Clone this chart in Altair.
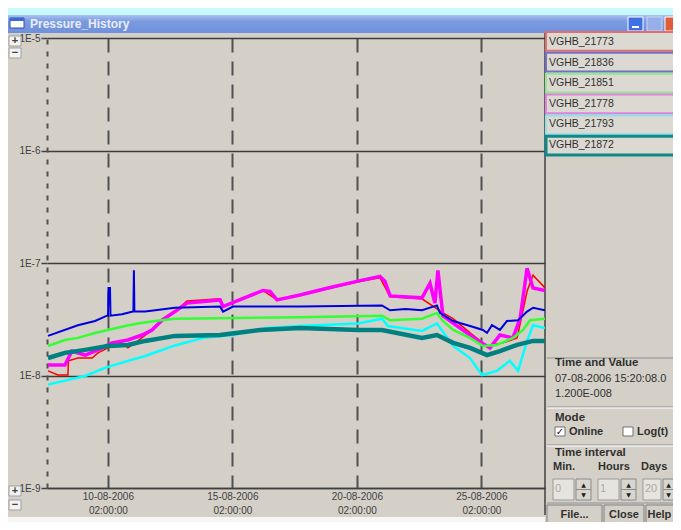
import altair as alt
import pandas as pd

# ---- data: days since 07-08-2006 15:20:08, pressure values ----
names = ["VGHB_21773", "VGHB_21836", "VGHB_21851", "VGHB_21778", "VGHB_21793", "VGHB_21872"]
line_colors = ["#ff0000", "#0000dd", "#33ff33", "#ff00ff", "#00ffff", "#008080"]
box_colors = ["#e07070", "#7070c8", "#90e890", "#e080e0", "#90e0e8", "#108888"]
line_widths = [1.5, 2, 2.5, 3.5, 2.5, 4.5]

red_day = [0.04, 0.44, 0.84, 0.86, 1.24, 1.81, 2.05, 2.45, 3.01, 3.25, 3.65, 4.22, 4.62, 5.14, 5.62, 6.95, 7.07, 7.63, 8.67, 9.24, 10.16, 12.49, 13.37, 13.78, 15.06, 15.90, 16.31, 16.99, 17.67, 18.31, 18.88, 19.28, 19.52, 20.0]
red_val = [1.10e-8, 1.01e-8, 1.01e-8, 1.35e-8, 1.43e-8, 1.43e-8, 1.59e-8, 1.76e-8, 1.95e-8, 1.76e-8, 2.03e-8, 2.54e-8, 3.1e-8, 3.7e-8, 4.6e-8, 4.8e-8, 4.1e-8, 4.6e-8, 5.7e-8, 4.7e-8, 5.2e-8, 6.8e-8, 7.4e-8, 5.0e-8, 4.8e-8, 3.6e-8, 3.2e-8, 2.39e-8, 1.83e-8, 1.95e-8, 2.16e-8, 5.6e-8, 7.8e-8, 6.0e-8]

blue_day = [0.04, 1.24, 1.93, 2.41, 2.45, 2.47, 2.53, 2.55, 3.01, 3.45, 3.47, 3.49, 3.51, 3.94, 5.14, 6.95, 7.07, 7.47, 10.16, 13.45, 13.78, 14.4, 15.06, 15.66, 15.78, 16.31, 16.99, 17.51, 17.67, 17.87, 18.19, 18.47, 18.92, 19.28, 19.52, 20.0]
blue_val = [2.25e-8, 2.8e-8, 3.05e-8, 3.4e-8, 3.4e-8, 6.0e-8, 6.0e-8, 3.4e-8, 3.5e-8, 3.7e-8, 3.7e-8, 8.6e-8, 3.7e-8, 3.7e-8, 4.0e-8, 4.1e-8, 3.7e-8, 4.1e-8, 4.1e-8, 4.2e-8, 3.8e-8, 3.9e-8, 3.8e-8, 4.2e-8, 3.6e-8, 3.05e-8, 2.75e-8, 2.54e-8, 2.39e-8, 2.8e-8, 2.54e-8, 3.05e-8, 3.1e-8, 3.7e-8, 4.0e-8, 3.8e-8]

green_day = [0.04, 0.72, 1.24, 1.93, 2.45, 3.13, 3.65, 4.34, 5.14, 10.16, 13.45, 13.78, 15.06, 15.66, 15.90, 16.31, 16.99, 17.51, 18.07, 18.71, 19.12, 19.40, 20.0]
green_val = [1.83e-8, 2.07e-8, 2.16e-8, 2.39e-8, 2.54e-8, 2.75e-8, 2.9e-8, 3.05e-8, 3.2e-8, 3.3e-8, 3.4e-8, 3.1e-8, 3.2e-8, 3.6e-8, 3.05e-8, 2.54e-8, 2.16e-8, 1.83e-8, 1.87e-8, 2.16e-8, 2.54e-8, 3.1e-8, 3.2e-8]

mag_day = [0.04, 0.72, 1.00, 1.53, 2.05, 2.61, 3.25, 3.82, 4.22, 4.62, 5.14, 5.62, 6.95, 7.07, 7.63, 8.67, 8.96, 9.24, 10.16, 11.29, 12.49, 13.37, 13.57, 13.78, 15.06, 15.38, 15.58, 15.70, 15.90, 16.59, 17.27, 17.79, 18.19, 18.71, 19.00, 19.28, 19.52, 20.0]
mag_val = [1.24e-8, 1.24e-8, 1.65e-8, 1.52e-8, 1.69e-8, 1.95e-8, 2.07e-8, 2.29e-8, 2.54e-8, 3.1e-8, 3.7e-8, 4.4e-8, 4.7e-8, 4.1e-8, 4.6e-8, 5.7e-8, 5.6e-8, 4.7e-8, 5.2e-8, 6.0e-8, 6.9e-8, 7.6e-8, 6.9e-8, 5.1e-8, 4.9e-8, 6.6e-8, 4.4e-8, 8.6e-8, 3.4e-8, 2.64e-8, 2.07e-8, 1.76e-8, 2.29e-8, 2.16e-8, 3.2e-8, 9.0e-8, 6.0e-8, 5.7e-8]

cyan_day = [0.04, 0.72, 1.53, 2.33, 3.25, 3.94, 5.14, 6.27, 7.47, 8.84, 10.16, 12.49, 13.45, 13.69, 15.06, 15.66, 16.31, 16.99, 17.47, 18.07, 18.59, 18.92, 19.28, 19.52, 20.0]
cyan_val = [8.3e-9, 9.0e-9, 9.9e-9, 1.17e-8, 1.35e-8, 1.49e-8, 1.85e-8, 2.16e-8, 2.29e-8, 2.64e-8, 2.75e-8, 2.9e-8, 3.2e-8, 2.75e-8, 2.49e-8, 2.9e-8, 1.83e-8, 1.43e-8, 1.01e-8, 1.10e-8, 1.35e-8, 1.10e-8, 2.03e-8, 2.8e-8, 2.64e-8]

teal_day = [0.04, 0.72, 1.53, 2.45, 3.25, 3.94, 5.14, 6.95, 8.55, 10.16, 12.49, 13.45, 15.06, 15.66, 16.31, 16.99, 17.67, 18.19, 18.88, 19.52, 20.0]
teal_val = [1.43e-8, 1.59e-8, 1.69e-8, 1.83e-8, 1.87e-8, 2.03e-8, 2.25e-8, 2.29e-8, 2.54e-8, 2.64e-8, 2.54e-8, 2.54e-8, 2.16e-8, 2.29e-8, 1.95e-8, 1.76e-8, 1.52e-8, 1.65e-8, 1.87e-8, 2.03e-8, 2.03e-8]

y_ticks = [1e-9, 1e-8, 1e-7, 1e-6, 1e-5]
start = pd.Timestamp("2006-08-07 15:20:08")
tick_dates = ["2006-08-10 02:00:00", "2006-08-15 02:00:00", "2006-08-20 02:00:00", "2006-08-25 02:00:00"]
tick_days = [(pd.Timestamp(t) - start).total_seconds() / 86400 for t in tick_dates]

series = {
    "VGHB_21773": (red_day, red_val),
    "VGHB_21836": (blue_day, blue_val),
    "VGHB_21851": (green_day, green_val),
    "VGHB_21778": (mag_day, mag_val),
    "VGHB_21793": (cyan_day, cyan_val),
    "VGHB_21872": (teal_day, teal_val),
}
draw_order = ["VGHB_21773", "VGHB_21778", "VGHB_21836", "VGHB_21851", "VGHB_21793", "VGHB_21872"]

FONT = "Liberation Sans"
BG = "#d4d0c8"
W, H = 498, 450

d0 = "time(datetime(2006,7,7,15,20,8)) + round(datum.value*86400000)"
x_enc = alt.X("day:Q", scale=alt.Scale(domain=[0, 20], nice=False, zero=False),
              axis=alt.Axis(values=tick_days, title=None, ticks=False, grid=True,
                            gridDash=[14, 9], gridColor="#505050", gridWidth=2,
                            domainColor="#404040", domainWidth=1.5, labelAngle=0,
                            labelExpr="[timeFormat(" + d0 + ", '%d-%m-%Y'), timeFormat(" + d0 + ", '%H:%M:%S')]",
                            labelFont=FONT, labelFontSize=10, labelColor="#404040",
                            labelPadding=3, labelLineHeight=14))
y_enc = alt.Y("value:Q", scale=alt.Scale(type="log", domain=[1e-9, 1e-5], nice=False),
              axis=alt.Axis(values=y_ticks, title=None, grid=True, gridColor="#3c3c3c",
                            gridWidth=1.5, domainDash=[5, 7], domainColor="#505050",
                            domainWidth=2, tickSize=6, tickColor="#404040", tickWidth=1.5,
                            labelExpr="'1E-' + round(-log(datum.value)/LN10)",
                            labelFont=FONT, labelFontSize=10, labelColor="#404040",
                            labelPadding=1, labelFlush=False))

line_layers = []
for nm in draw_order:
    i = names.index(nm)
    dd, vv = series[nm]
    df = pd.DataFrame({"day": dd, "value": vv, "series": nm})
    line_layers.append(
        alt.Chart(df).mark_line(color=line_colors[i], strokeWidth=line_widths[i], clip=True,
                                strokeJoin="miter")
        .encode(x=x_enc, y=y_enc)
    )
lines = alt.layer(*line_layers)

# ---- legend boxes ----
leg_df = pd.DataFrame({"name": names, "box": box_colors})
leg_scale = alt.Scale(domain=names, range=[-6, 117], paddingInner=0.1, paddingOuter=0)
leg_rect = alt.Chart(leg_df).mark_rect(fill="#dcd9d2").encode(
    x=alt.value(499), x2=alt.value(640),
    y=alt.Y("name:N", scale=leg_scale, axis=None),
    stroke=alt.Stroke("box:N", scale=None),
    strokeWidth=alt.condition("datum.name == 'VGHB_21872'", alt.value(3), alt.value(2)),
)
leg_text = alt.Chart(leg_df).mark_text(align="left", baseline="middle", font=FONT,
                                       fontSize=10.5, color="#303030").encode(
    x=alt.value(502),
    y=alt.Y("name:N", scale=leg_scale, axis=None, bandPosition=0.5),
    text="name:N",
)

# ---- window chrome ----
one = pd.DataFrame({"k": [0]})


def rect(x1, y1, x2, y2, fill, stroke=None, sw=1):
    kw = {"fill": fill}
    if stroke:
        kw.update(stroke=stroke, strokeWidth=sw)
    return alt.Chart(one).mark_rect(**kw).encode(
        x=alt.value(x1), x2=alt.value(x2), y=alt.value(y1), y2=alt.value(y2))


def txt(x, y, s, size=11, bold=False, color="#303030", align="left", font=FONT):
    return alt.Chart(one).mark_text(text=s, fontSize=size, fontWeight="bold" if bold else "normal",
                                    color=color, align=align, baseline="middle", font=font).encode(
        x=alt.value(x), y=alt.value(y))


def hline(x1, x2, y, color, w=1):
    return alt.Chart(one).mark_rule(color=color, strokeWidth=w).encode(
        x=alt.value(x1), x2=alt.value(x2), y=alt.value(y))


def vline(x, y1, y2, color, w=1):
    return alt.Chart(one).mark_rule(color=color, strokeWidth=w).encode(
        x=alt.value(x), y=alt.value(y1), y2=alt.value(y2))


title_grad = alt.LinearGradient(gradient="linear", x1=0, y1=0, x2=0, y2=1,
                                stops=[alt.GradientStop(color="#a9c0f0", offset=0),
                                       alt.GradientStop(color="#7b9be0", offset=0.35),
                                       alt.GradientStop(color="#6f90dc", offset=1)])
chrome = [
    rect(-39, -30, 626, -23, "#c8fafd"),
    alt.Chart(one).mark_rect(fill=title_grad).encode(
        x=alt.value(-39), x2=alt.value(626), y=alt.value(-23), y2=alt.value(-5)),
    rect(-37, -20, -23, -10, "#ffffff", "#3050a0"),
    rect(-37, -20, -23, -17, "#3a6ad8"),
    txt(-17, -14, "Pressure_History", size=12, bold=True, color="#e8eefb"),
    rect(581, -21, 596, -7, "#3f70e4", "#ffffff"),
    hline(585, 592, -11, "#ffffff", 2),
    rect(600, -21, 615, -7, "#97afe8", "#c8d6f4"),
    rect(618, -21, 634, -7, "#e05c3a", "#ffffff"),
    # left zoom buttons
    rect(-38, -2, -26, 8, "#f2f2f0", "#a0a0a0"),
    txt(-32, 3, "+", size=11, bold=True, color="#404040", align="center"),
    rect(-38, 10, -26, 20, "#f2f2f0", "#a0a0a0"),
    txt(-32, 15, "−", size=11, bold=True, color="#404040", align="center"),
    rect(-38, 448, -26, 458, "#f2f2f0", "#a0a0a0"),
    txt(-32, 453, "+", size=11, bold=True, color="#404040", align="center"),
    rect(-38, 462, -26, 472, "#f2f2f0", "#a0a0a0"),
    txt(-32, 467, "−", size=11, bold=True, color="#404040", align="center"),
    # scrollbar
    rect(-39, 479, 498, 490, "#f6f6f4"),
    # right separator
    vline(498, -5, 477, "#404040", 1.5),
    # Time and Value group
    hline(500, 626, 320, "#909090"),
    txt(508, 325, "Time and Value", size=11.5, bold=True),
    txt(508, 341, "07-08-2006 15:20:08.0", size=11),
    txt(508, 356, "1.200E-008", size=11),
    hline(500, 626, 369, "#909090"),
    hline(500, 626, 370, "#ffffff"),
    txt(508, 380, "Mode", size=11.5, bold=True),
    rect(508, 389, 518, 398, "#ffffff", "#707070"),
    txt(513, 393.5, "✓", size=10, bold=True, color="#202020", align="center", font="DejaVu Sans"),
    txt(522, 393.5, "Online", size=11, bold=True),
    rect(576, 389, 586, 398, "#ffffff", "#707070"),
    txt(590, 393.5, "Log(t)", size=11, bold=True),
    hline(500, 626, 407, "#909090"),
    hline(500, 626, 408, "#ffffff"),
    txt(508, 415, "Time interval", size=11.5, bold=True),
    txt(506, 429, "Min.", size=11, bold=True),
    txt(551, 429, "Hours", size=11, bold=True),
    txt(594, 429, "Days", size=11, bold=True),
]
for bx, tw, aw, val in [(506, 21, 15, "0"), (551, 21, 15, "1"), (596, 18, 11, "20")]:
    ax0 = bx + tw + 2
    chrome += [
        rect(bx, 441, bx + tw, 462, "#e6e4df", "#9a9a9a"),
        txt(bx + 2, 451, val, size=11, color="#a8a8a8"),
        rect(ax0, 441, ax0 + aw, 451.5, "#d8d5ce", "#8a8a8a"),
        rect(ax0, 451.5, ax0 + aw, 462, "#d8d5ce", "#8a8a8a"),
        txt(ax0 + aw / 2, 446.5, "▲", size=6, color="#202020", align="center", font="DejaVu Sans"),
        txt(ax0 + aw / 2, 457, "▼", size=6, color="#202020", align="center", font="DejaVu Sans"),
    ]
chrome += [
    hline(500, 626, 465, "#909090"),
    rect(500, 467, 555, 488, "#d4d0c8", "#808080"),
    txt(527.5, 477, "File...", size=11, bold=True, align="center"),
    rect(557, 467, 597, 488, "#d4d0c8", "#808080"),
    txt(577, 477, "Close", size=11, bold=True, align="center"),
    rect(599, 467, 640, 488, "#d4d0c8", "#808080"),
    txt(600.5, 477, "Help", size=11, bold=True),
]

chart = alt.layer(*chrome, lines, leg_rect, leg_text).resolve_scale(y="independent").properties(
    width=W, height=H,
    autosize=alt.AutoSizeParams(type="none"),
    padding={"left": 39, "top": 30, "right": 128, "bottom": 34},
    background=BG,
).configure_view(stroke=None, fill=BG)

chart.save("out.html", embed_options={"renderer": "svg", "actions": False})
